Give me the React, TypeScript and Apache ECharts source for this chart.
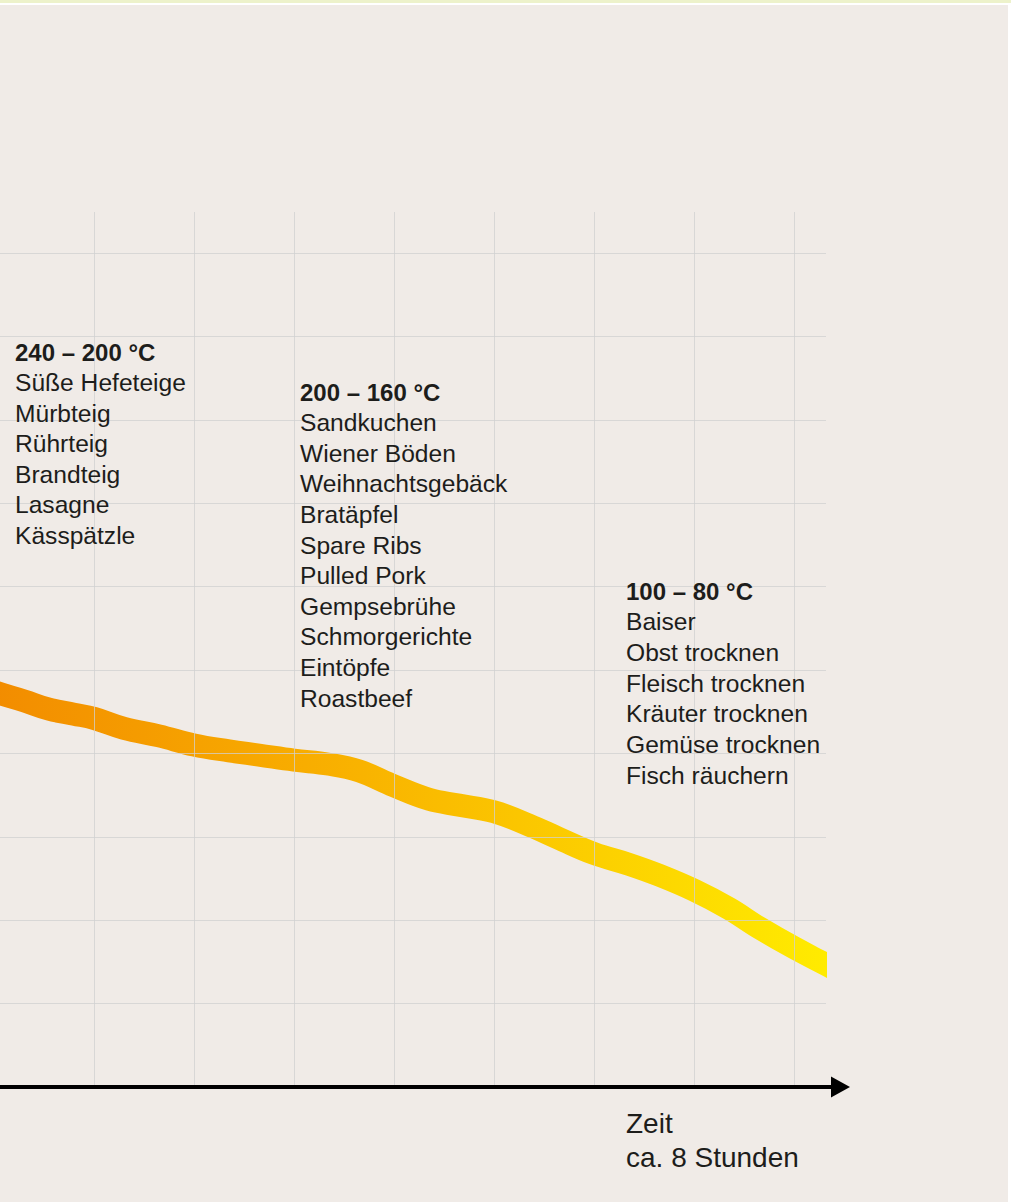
import React, { useEffect, useRef } from "react";
import * as echarts from "echarts";

// Time in hours (x) and relative oven-temperature level (y) along the band
const hours = [-0.2, 0, 0.3, 0.55, 0.8, 1, 1.3, 1.65, 2, 2.35, 2.65, 3, 3.35, 3.65, 4, 4.35, 4.65, 5, 5.35, 5.65, 6, 6.35, 6.65, 7, 7.35, 7.65, 8, 8.4];
const levels = [4.84, 4.74, 4.63, 4.53, 4.47, 4.42, 4.3, 4.21, 4.1, 4.03, 3.98, 3.92, 3.87, 3.79, 3.61, 3.45, 3.38, 3.3, 3.14, 2.98, 2.8, 2.67, 2.54, 2.36, 2.14, 1.91, 1.67, 1.42];

const block1Title = "240 – 200 °C";
const block1Items = ["Süße Hefeteige", "Mürbteig", "Rührteig", "Brandteig", "Lasagne", "Kässpätzle"];
const block2Title = "200 – 160 °C";
const block2Items = ["Sandkuchen", "Wiener Böden", "Weihnachtsgebäck", "Bratäpfel", "Spare Ribs", "Pulled Pork", "Gempsebrühe", "Schmorgerichte", "Eintöpfe", "Roastbeef"];
const block3Title = "100 – 80 °C";
const block3Items = ["Baiser", "Obst trocknen", "Fleisch trocknen", "Kräuter trocknen", "Gemüse trocknen", "Fisch räuchern"];
const axisTitle = "Zeit";
const axisSubtitle = "ca. 8 Stunden";

const FONT = '"Liberation Sans", "Helvetica Neue", Arial, sans-serif';
const INK = "#1d1d1b";
const GRIDLINE = "rgba(208,208,208,0.75)";
// the chart canvas starts OX pixels left of the page, so the plot can run off the left edge
const OX = 200;
const W = 1011;
const BAND_W = 23;

function textBlock(title: string, items: string[], x: number, y0: number, step: number) {
  const els: any[] = [];
  els.push({
    type: "text",
    x: x + OX,
    y: y0,
    z: 20,
    style: { text: title, fill: INK, fontFamily: FONT, fontSize: 24, fontWeight: "bold", verticalAlign: "middle", align: "left" },
  });
  items.forEach((t, i) => {
    els.push({
      type: "text",
      x: x + OX,
      y: y0 + (i + 1) * step,
      z: 20,
      style: { text: t, fill: INK, fontFamily: FONT, fontSize: 24.6, fontWeight: "normal", verticalAlign: "middle", align: "left" },
    });
  });
  return els;
}

export default function App() {
  const ref = useRef<HTMLDivElement>(null);
  useEffect(() => {
    if (!ref.current) return;
    const chart = echarts.init(ref.current, undefined, { renderer: "svg" });
    const data = hours.map((h, i) => [h, levels[i]]);
    // hour 0 sits at page x = -6, one hour = 100 px
    const x0 = OX - 6;
    const bandRightPage = 826 - BAND_W / 2; // clip path is widened by half the line width
    const bandMax = (bandRightPage + 6) / 100;
    const hidden = { show: false };
    const option: any = {
      animation: false,
      backgroundColor: "#f0ebe7",
      graphic: [
        { type: "rect", shape: { x: 0, y: 0, width: W + OX, height: 3 }, style: { fill: "#edf2cb" }, z: 30 },
        { type: "rect", shape: { x: 0, y: 3, width: W + OX, height: 2 }, style: { fill: "#ffffff" }, z: 30 },
        { type: "rect", shape: { x: OX + 1008, y: 3, width: 3, height: 1199 }, style: { fill: "#ffffff" }, z: 30 },
        ...textBlock(block1Title, block1Items, 15, 352, 30.55),
        ...textBlock(block2Title, block2Items, 300, 392, 30.6),
        ...textBlock(block3Title, block3Items, 626, 591, 30.67),
        {
          type: "text", x: OX + 626, y: 1123, z: 20,
          style: { text: axisTitle, fill: INK, fontFamily: FONT, fontSize: 28, verticalAlign: "middle", align: "left" },
        },
        {
          type: "text", x: OX + 626, y: 1157, z: 20,
          style: { text: axisSubtitle, fill: INK, fontFamily: FONT, fontSize: 28, verticalAlign: "middle", align: "left" },
        },
      ],
      grid: [
        // 0: band
        { left: x0, right: W - bandRightPage, top: 253, bottom: 115 },
        // 1: horizontal grid lines
        { left: 0, right: W - 826, top: 253, bottom: 115 },
        // 2: vertical grid lines
        { left: x0, right: W - 794, top: 212, bottom: 115 },
        // 3: time axis with arrow
        { left: 0, right: W - 840.5, top: 212, bottom: 115 },
      ],
      xAxis: [
        { gridIndex: 0, type: "value", min: 0, max: bandMax, ...hidden },
        { gridIndex: 1, type: "value", min: 0, max: 1, ...hidden },
        {
          gridIndex: 2, type: "value", min: 0, max: 8, interval: 1, z: 5,
          axisLine: { show: false }, axisTick: { show: false }, axisLabel: { show: false },
          splitLine: { show: true, lineStyle: { color: GRIDLINE, width: 1 } },
        },
        {
          gridIndex: 3, type: "value", min: 0, max: 1, z: 8,
          axisLine: { show: true, symbol: ["none", "triangle"], symbolSize: [21, 19], lineStyle: { color: "#000000", width: 4 } },
          axisTick: { show: false }, axisLabel: { show: false }, splitLine: { show: false },
        },
      ],
      yAxis: [
        { gridIndex: 0, type: "value", min: 0, max: 10, ...hidden },
        {
          gridIndex: 1, type: "value", min: 0, max: 10, interval: 1, z: 5,
          axisLine: { show: false }, axisTick: { show: false }, axisLabel: { show: false },
          splitLine: { show: true, lineStyle: { color: GRIDLINE, width: 1 } },
        },
        { gridIndex: 2, type: "value", min: 0, max: 1, ...hidden },
        { gridIndex: 3, type: "value", min: 0, max: 1, ...hidden },
      ],
      series: [
        {
          type: "line",
          xAxisIndex: 0,
          yAxisIndex: 0,
          data,
          smooth: 0.4,
          symbol: "none",
          clip: true,
          z: 1,
          lineStyle: {
            width: BAND_W,
            cap: "butt",
            join: "round",
            color: new echarts.graphic.LinearGradient(0, 0, 1, 0, [
              { offset: 0, color: "#f28a00" },
              { offset: 0.45, color: "#f9b300" },
              { offset: 1, color: "#ffec00" },
            ]),
          },
        },
      ],
    };
    chart.setOption(option);
    return () => chart.dispose();
  }, []);
  return <div ref={ref} style={{ position: "fixed", left: -OX, top: 0, width: W + OX, height: 1202 }} />;
}
